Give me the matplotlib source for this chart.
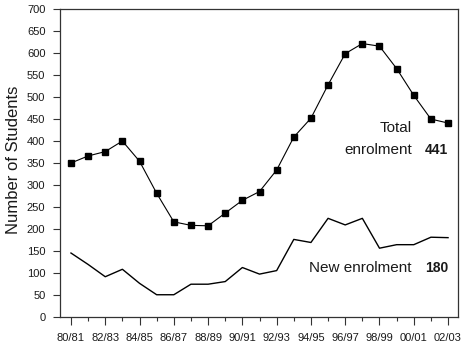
import matplotlib
matplotlib.use("Agg")
import matplotlib.pyplot as plt
from matplotlib import font_manager
from matplotlib.ticker import MultipleLocator

plt.rcParams['font.family'] = ['Liberation Sans', 'DejaVu Sans']

years = ["80/81", "81/82", "82/83", "83/84", "84/85", "85/86", "86/87", "87/88",
         "88/89", "89/90", "90/91", "91/92", "92/93", "93/94", "94/95", "95/96",
         "96/97", "97/98", "98/99", "99/00", "00/01", "01/02", "02/03"]
total = [350, 366, 376, 400, 354, 281, 216, 208, 207, 236, 265, 285, 334, 409,
         452, 528, 599, 622, 616, 565, 504, 450, 441]
new = [145, 119, 91, 108, 76, 50, 50, 74, 74, 80, 112, 97, 105, 176, 169, 224,
       209, 224, 156, 164, 164, 181, 180]

names = {f.name for f in font_manager.fontManager.ttflist}
if 'Liberation Sans Narrow' in names:
    ann_family = ['Liberation Sans Narrow', 'DejaVu Sans']
    ann_size = 12.8
else:
    ann_family = ['Liberation Sans', 'DejaVu Sans']
    ann_size = 11

W, H = 461, 345
fig = plt.figure(figsize=(W / 100, H / 100), dpi=100)
ax = fig.add_axes([60 / W, 1 - 316.7 / H, 398 / W, 307.4 / H])
x = list(range(len(years)))
ax.plot(x, total, color='black', lw=0.8, marker='s', ms=5, mfc='black', mec='black')
ax.plot(x, new, color='black', lw=1.0)

ax.set_xlim(-0.64, len(years) - 1 + 0.58)
ax.set_ylim(0, 700)
ax.yaxis.set_major_locator(MultipleLocator(50))
ax.set_xticks(x[::2])
ax.set_xticklabels(years[::2])
ax.set_xticks(x[1::2], minor=True)
ax.tick_params(axis='x', which='major', labelsize=8, direction='out', length=5.4,
               width=0.8, color='#333333', labelcolor='#1a1a1a', pad=6)
ax.tick_params(axis='x', which='minor', direction='out', length=2.6, width=0.8, color='#333333')
ax.tick_params(axis='y', which='major', labelsize=8, direction='out', length=5,
               width=0.8, color='#333333', labelcolor='#1a1a1a', pad=5.5)
for s in ax.spines.values():
    s.set_color('#333333')
    s.set_linewidth(0.9)

fig.text(13.5 / W, 1 - 160 / H, "Number of Students", rotation=90, ha='center', va='center',
         fontsize=12, color='#1a1a1a')

ax.text(19.9, 421, "Total", ha='right', va='baseline', fontsize=ann_size,
        family=ann_family, color='#1a1a1a')
ax.text(19.9, 371, "enrolment", ha='right', va='baseline', fontsize=ann_size,
        family=ann_family, color='#1a1a1a')
ax.text(22.0, 371, "441", ha='right', va='baseline', fontsize=ann_size - 1,
        family=ann_family, fontweight='bold', color='#1a1a1a')
ax.text(19.85, 102.5, "New enrolment", ha='right', va='baseline', fontsize=ann_size,
        family=ann_family, color='#1a1a1a')
ax.text(22.0, 102.5, "180", ha='right', va='baseline', fontsize=ann_size - 1,
        family=ann_family, fontweight='bold', color='#1a1a1a')

fig.savefig("out.png", dpi=100)
